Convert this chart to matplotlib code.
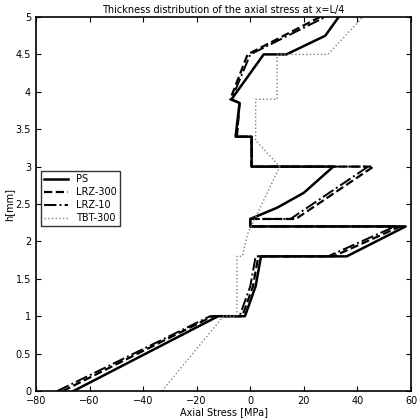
import matplotlib.pyplot as plt

# --- stress profiles through the thickness ---
ps_x = [-66, -12, -2, 2, 4, 36, 58, 0, 0, 10, 20, 31, 0.5, 0.5, -5.5, -4, -7, 5, 13.5, 28, 33]
ps_h = [0, 1, 1, 1.4, 1.8, 1.8, 2.2, 2.2, 2.3, 2.45, 2.65, 3.0, 3.0, 3.4, 3.4, 3.85, 3.9, 4.5, 4.5, 4.75, 5]

lrz300_x = [-70, -14, -3, 1, 3, 31, 56, 0, 0, 17, 46, 0.5, 0.5, -5, -4, -7.5, -1, 26]
lrz300_h = [0, 1, 1, 1.4, 1.8, 1.8, 2.2, 2.2, 2.3, 2.3, 3.0, 3.0, 3.4, 3.4, 3.85, 3.9, 4.5, 5]

lrz10_x = [-72, -15, -4, 0, 2, 29, 54, 0, 0, 15, 44, 0.5, 0.5, -5, -4, -7, 0, 28]
lrz10_h = [0, 1, 1, 1.4, 1.8, 1.8, 2.2, 2.2, 2.3, 2.3, 3.0, 3.0, 3.4, 3.4, 3.85, 3.9, 4.5, 5]

tbt_x = [-33, -10, -5, -5, -3, -1, 11, 2, 2, 10, 10, 29, 42]
tbt_h = [0, 1, 1, 1.8, 1.8, 2.1, 3.0, 3.35, 3.9, 3.9, 4.5, 4.5, 5]

fig = plt.figure(figsize=(4.2, 4.2), dpi=100)
ax = fig.add_axes([36 / 420, 29 / 420, 375 / 420, 374 / 420])

ax.plot(ps_x, ps_h, color='black', linewidth=1.8, label='PS')
ax.plot(lrz300_x, lrz300_h, color='black', linewidth=1.6, linestyle='--', label='LRZ-300')
ax.plot(lrz10_x, lrz10_h, color='black', linewidth=1.4, linestyle='-.', label='LRZ-10')
ax.plot(tbt_x, tbt_h, color='gray', linewidth=1.0, linestyle=':', label='TBT-300')

ax.set_xlim(-80, 60)
ax.set_ylim(0, 5)
ax.set_xticks(range(-80, 61, 20))
ax.set_yticks([0, 0.5, 1, 1.5, 2, 2.5, 3, 3.5, 4, 4.5, 5])
ax.set_yticklabels(['0', '0.5', '1', '1.5', '2', '2.5', '3', '3.5', '4', '4.5', '5'])
ax.tick_params(direction='in', labelsize=7, top=True, right=True)
ax.set_xlabel('Axial Stress [MPa]', fontsize=7, labelpad=1)
ax.set_ylabel('h[mm]', fontsize=7, labelpad=1)
ax.set_title('Thickness distribution of the axial stress at x=L/4', fontsize=7, pad=3)
for s in ax.spines.values():
    s.set_linewidth(1.2)
ax.legend(loc='upper left', bbox_to_anchor=(0.0, 0.6), fontsize=7,
          frameon=True, fancybox=False, edgecolor='black', handlelength=2.5,
          borderpad=0.3, labelspacing=0.3)

fig.savefig('out.png', dpi=100)
